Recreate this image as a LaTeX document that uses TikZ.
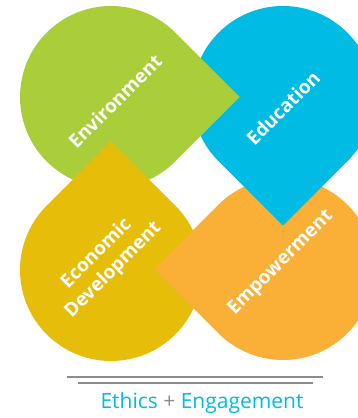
\documentclass[tikz,border=0pt]{standalone}
\usepackage{fontspec}
\setmainfont{Open Sans}
\usetikzlibrary{positioning}

\definecolor{envgreen}{HTML}{A9CE3A}
\definecolor{educyan}{HTML}{00BCE4}
\definecolor{ecoyellow}{HTML}{E6BE0A}
\definecolor{empowerorange}{HTML}{FAB037}
\definecolor{rulegray}{HTML}{8C8C8C}

% petal: centre, direction of the point, colour
\newcommand{\petal}[3]{%
  \fill[#3, shift={#1}] (#2+45:91) arc[start angle=#2+45, end angle=#2+315, radius=91] -- (#2:128.7) -- cycle;}

\begin{document}
\begin{tikzpicture}[
        x=1pt, y=1pt,
        petaltext/.style={text=white, font=\fontsize{19}{23.5}\selectfont\bfseries, align=center, rotate=45, inner sep=0pt},
        motto/.style={font=\fontsize{21}{25}\selectfont, inner sep=0pt},
        rule/.style={draw=rulegray, line width=1.1pt}
    ]
    \useasboundingbox (0,0) rectangle (357,-418);

    % Petals
    \petal{(283,-269)}{180}{empowerorange}
    \petal{(283,-97)}{-90}{educyan}
    \petal{(111,-97)}{0}{envgreen}
    \petal{(111,-270)}{90}{ecoyellow}
    \begin{scope}
      \clip (0,-150) rectangle (230,-418);
      \petal{(283,-269)}{180}{empowerorange}
    \end{scope}

    % Nodes
    \node[petaltext] (env) at (115,-101) {Environment};
    \node[petaltext] (edu) at (283,-108) {Education};
    \node[petaltext] (eco) at (105,-262) {Economic\\Development};
    \node[petaltext] (empower) at (281,-263) {Empowerment};

    \node[motto] (ethics) at (202,-403) {\textcolor{educyan}{Ethics} \textcolor{rulegray}{+} \textcolor{educyan}{Engagement}};

    % Rules
    \coordinate (topL) at (67,-377);
    \coordinate (topR) at (323,-377);
    \coordinate (botL) at (78,-383);
    \coordinate (botR) at (313,-383);
    \draw[rule] (topL) -- (topR);
    \draw[rule] (botL) -- (botR);
\end{tikzpicture}
\end{document}
